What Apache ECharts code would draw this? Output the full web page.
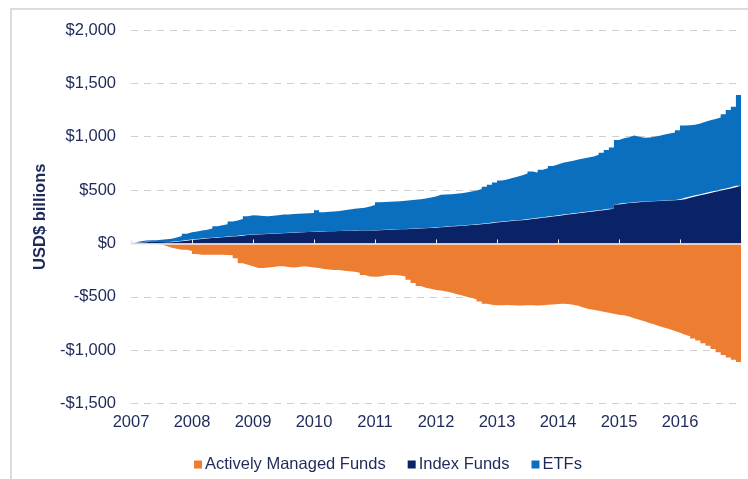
<!DOCTYPE html>
<html>
<head>
<meta charset="utf-8">
<script src="https://cdn.jsdelivr.net/npm/echarts@6/dist/echarts.min.js"></script>
<style>
  html, body { margin: 0; padding: 0; background: #fff; }
  #chart { width: 748px; height: 479px; }
</style>
</head>
<body>
<div id="chart"></div>
<script>
// monthly cumulative flows, USD billions, Jan 2007 .. Dec 2016
const yearTicks = ['2007', '2008', '2009', '2010', '2011', '2012', '2013', '2014', '2015', '2016'];

const activelyManaged = [
  0, 0, 0, 0, 0, -10, -25, -40, -50, -60, -60, -70,
  -100, -105, -105, -105, -105, -105, -108, -110, -140, -185, -200, -215,
  -230, -230, -225, -220, -215, -215, -220, -225, -220, -215, -218, -225,
  -230, -240, -245, -248, -250, -255, -260, -265, -275, -295, -310, -312,
  -310, -300, -295, -295, -300, -310, -340, -370, -400, -415, -425, -436,
  -440, -450, -460, -475, -485, -500, -510, -525, -545, -565, -575, -580,
  -580, -578, -580, -582, -582, -580, -580, -582, -580, -575, -572, -568,
  -565, -568, -575, -585, -600, -615, -622, -630, -640, -650, -660, -668,
  -672, -685, -700, -715, -730, -745, -760, -775, -790, -805, -820, -838,
  -855, -870, -890, -910, -935, -960, -990, -1020, -1045, -1070, -1090, -1110
];

const indexFunds = [
  4, 8, 12, 15, 16, 14, 12, 12, 15, 20, 26, 32,
  37, 42, 46, 50, 54, 58, 60, 64, 68, 72, 78, 82,
  84, 86, 88, 90, 93, 96, 98, 100, 102, 104, 106, 108,
  110, 112, 113, 115, 116, 117, 118, 119, 120, 121, 122, 122,
  124, 126, 128, 130, 132, 134, 136, 138, 140, 142, 145, 148,
  152, 155, 158, 162, 165, 168, 172, 176, 180, 185, 190, 195,
  200, 205, 210, 214, 218, 222, 228, 234, 240, 246, 252, 258,
  264, 270, 276, 282, 288, 294, 300, 306, 312, 318, 324, 365,
  372, 378, 382, 386, 390, 393, 396, 398, 400, 402, 404, 406,
  415, 428, 440, 452, 462, 472, 484, 494, 505, 515, 527, 540
];

const etfs = [
  6, 12, 16, 15, 14, 21, 28, 33, 40, 50, 64, 73,
  75, 78, 82, 90, 106, 112, 120, 141, 147, 158, 177, 183,
  178, 172, 167, 170, 172, 174, 174, 175, 176, 176, 177, 178,
  202, 180, 183, 185, 189, 195, 200, 206, 210, 214, 223, 238,
  261, 262, 262, 263, 264, 266, 269, 272, 275, 278, 285, 292,
  303, 303, 304, 304, 305, 310, 314, 319, 330, 345, 360, 375,
  390, 395, 402, 411, 422, 433, 447, 431, 450, 459, 473, 482,
  491, 495, 499, 505, 507, 511, 515, 524, 538, 557, 576, 605,
  613, 617, 630, 614, 600, 599, 604, 612, 620, 628, 636, 654,
  690, 680, 672, 673, 678, 683, 681, 686, 705, 735, 753, 850
];

// one category per month boundary: Jan 2007 start, then each month end
const months = ['2007'];
for (let i = 1; i <= 120; i++) {
  months.push(i % 12 === 0 ? String(2007 + i / 12) : (2007 + Math.floor(i / 12)) + '-' + (i % 12 + 1));
}

const textColor = '#1e2a5a';
const font = 'Liberation Sans, Arial, sans-serif';

function money(v) {
  const s = Math.abs(v).toLocaleString('en-US');
  return (v < 0 ? '-$' : '$') + s;
}

function areaSeries(name, values, color, stack) {
  return {
    name: name,
    type: 'line',
    step: 'start',
    stack: stack,
    symbol: 'none',
    lineStyle: { width: 0 },
    itemStyle: { color: color },
    areaStyle: { color: color, opacity: 1 },
    data: [0].concat(values),
  };
}

const isYear = (i) => i % 12 === 0;

const chart = echarts.init(document.getElementById('chart'));
chart.setOption({
  animation: false,
  graphic: [{
    type: 'rect',
    shape: { x: 11, y: 9, width: 760, height: 520 },
    style: { fill: 'none', stroke: '#dcdcdc', lineWidth: 2 },
    silent: true,
  }],
  grid: {
    left: 131,
    right: 7,
    top: 30,
    bottom: 75.5,
  },
  legend: {
    left: 189,
    top: 451,
    icon: 'rect',
    itemWidth: 8,
    itemHeight: 8,
    itemGap: 22,
    textStyle: {
      color: textColor,
      fontSize: 16.5,
      fontFamily: font,
      padding: [0, 0, 0, -2],
    },
    data: ['Actively Managed Funds', 'Index Funds', 'ETFs'],
  },
  xAxis: [{
    type: 'category',
    data: months,
    boundaryGap: false,
    axisLine: { show: false, onZero: false },
    axisTick: { show: false },
    splitLine: { show: false },
    axisLabel: {
      interval: 0,
      margin: 10,
      color: textColor,
      fontSize: 16.5,
      fontFamily: font,
      formatter: (v) => (yearTicks.indexOf(v) >= 0 ? v : ''),
    },
  }, {
    type: 'category',
    data: months,
    boundaryGap: false,
    position: 'bottom',
    z: 10,
    axisLine: { show: true, onZero: true, lineStyle: { color: '#ebebeb', width: 1.5 } },
    axisTick: { show: true, inside: true, length: 4, interval: isYear, lineStyle: { color: '#ebebeb' } },
    axisLabel: { show: false },
    splitLine: { show: false },
  }],
  yAxis: {
    type: 'value',
    min: -1500,
    max: 2000,
    interval: 500,
    name: 'USD$ billions',
    nameLocation: 'middle',
    nameGap: 79,
    nameTextStyle: {
      color: textColor,
      fontSize: 16.5,
      fontWeight: 'bold',
      fontFamily: font,
    },
    axisLine: { show: false },
    axisTick: { show: false },
    axisLabel: {
      margin: 15,
      color: textColor,
      fontSize: 16.5,
      fontFamily: font,
      formatter: money,
    },
    splitLine: {
      show: true,
      lineStyle: { color: '#cfcfcf', type: [7, 6], width: 1 },
    },
  },
  series: [
    areaSeries('Actively Managed Funds', activelyManaged, '#ed7d31', 'neg'),
    areaSeries('Index Funds', indexFunds, '#0a2266', 'pos'),
    areaSeries('ETFs', etfs, '#0b6fc0', 'pos'),
  ],
});
</script>
</body>
</html>
